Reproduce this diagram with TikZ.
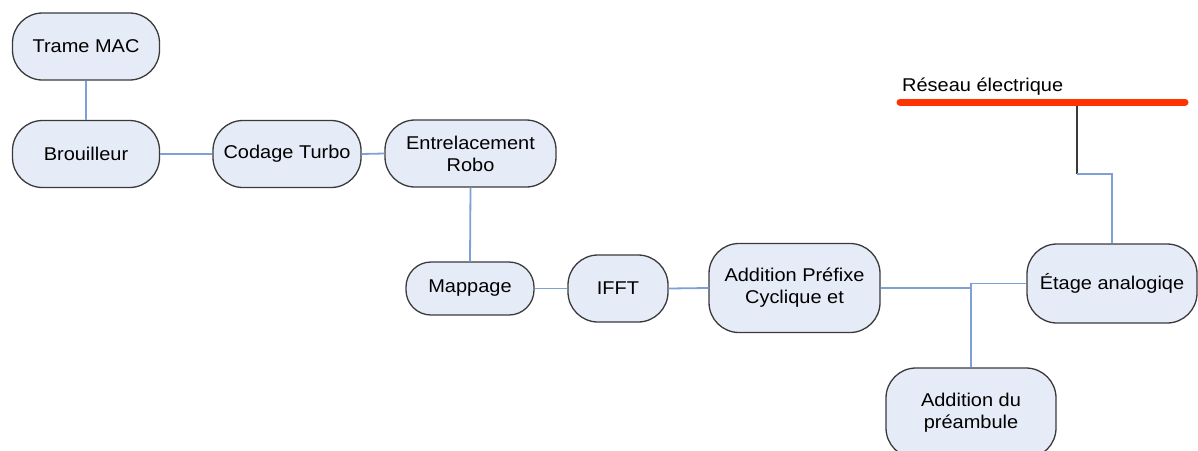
\documentclass[tikz,border=0pt]{standalone}
\usepackage{fontspec}
\setmainfont{Liberation Sans}[FakeStretch=1.08]
\definecolor{boxfill}{HTML}{E6ECF7}
\definecolor{boxdraw}{HTML}{3A3A3A}
\definecolor{linkblue}{HTML}{7F9FD8}
\definecolor{netred}{HTML}{FF3300}
\begin{document}
\begin{tikzpicture}[x=1pt,y=-1pt,
  box/.style={draw=boxdraw, fill=boxfill, line width=1.3pt, rounded corners=30pt,
    align=center, inner sep=0pt, font=\fontsize{18.5}{22}\selectfont},
  link/.style={draw=linkblue, line width=1.8pt}]
\useasboundingbox (0,0) rectangle (1198,450);
\node[box, minimum width=147pt, minimum height=67pt] (trame) at (86,46.5) {Trame MAC};
\node[box, minimum width=147pt, minimum height=67pt] (brouil) at (86,154) {Brouilleur};
\node[box, minimum width=148pt, minimum height=67pt] (codage) at (287,154) {Codage Turbo};
\node[box, minimum width=171pt, minimum height=67pt] (entre) at (470.5,153.5) {Entrelacement\\Robo};
\node[box, rounded corners=25pt, minimum width=128pt, minimum height=53pt] (mapp) at (470,288.5) {Mappage};
\node[box, minimum width=100pt, minimum height=67pt] (ifft) at (618,288.5) {IFFT};
\node[box, minimum width=171pt, minimum height=89pt] (addpref) at (794.5,288) {Addition Préfixe\\Cyclique et};
\node[box, minimum width=170pt, minimum height=90pt] (preamb) at (971,413) {Addition du\\préambule};
\node[box, minimum width=170pt, minimum height=79pt] (etage) at (1112,283.5) {Étage analogiqe};
\node[anchor=west, inner sep=0pt, font=\fontsize{18.5}{22}\selectfont] (reseau) at (902,87) {Réseau électrique};
\coordinate (r1) at (900,102);
\coordinate (r2) at (1185,102);
\coordinate (tap) at (1077,102);
\coordinate (bend) at (1077,174);
\draw[link] (trame.south) -- (brouil.north);
\draw[link] (brouil.east) -- (codage.west);
\draw[link] (codage.east) -- (entre.west);
\draw[link] (entre.south) -- (mapp.north);
\draw[link] (mapp.east) -- (ifft.west);
\draw[link] (ifft.east) -- (addpref.west);
\draw[link] (addpref.east) -- (addpref.east -| preamb.north);
\draw[link] (etage.west) -| (preamb.north);
\draw[draw=boxdraw, line width=1.5pt] (tap) -- (bend);
\draw[link] (bend) -| (etage.north);
\draw[draw=netred, line width=7pt, line cap=round] (r1) -- (r2);
\end{tikzpicture}
\end{document}
